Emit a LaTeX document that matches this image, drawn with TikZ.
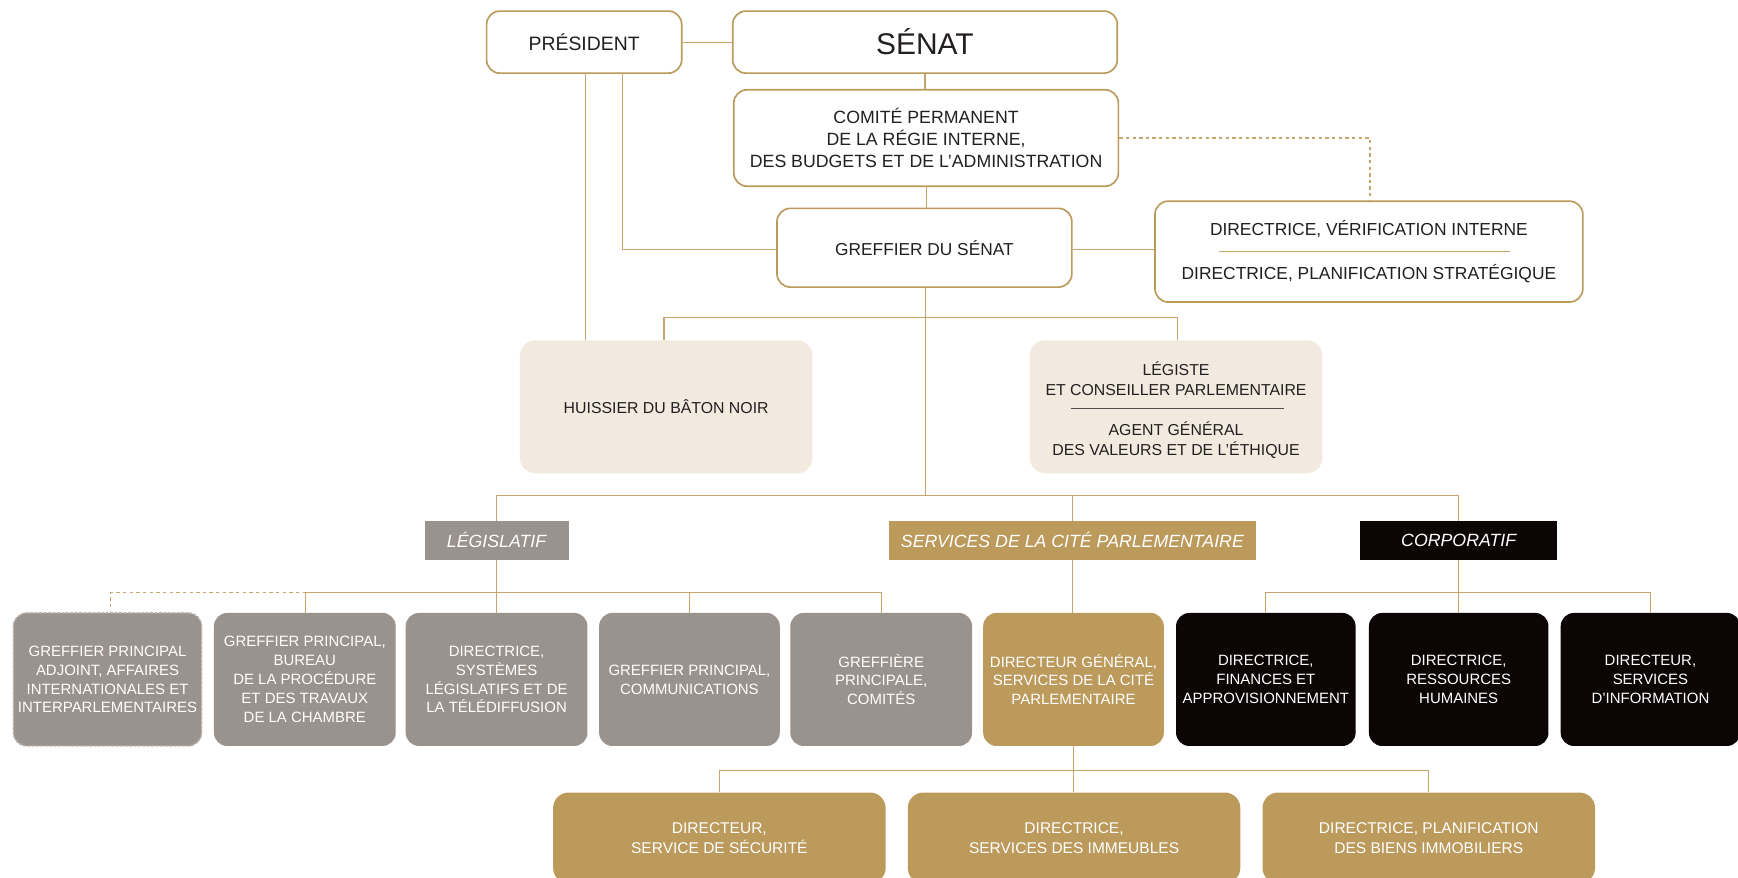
\documentclass[tikz,border=0pt]{standalone}
\usepackage{fontspec}
\setmainfont{Liberation Sans}
\definecolor{gold}{HTML}{BC9A5C}
\definecolor{goldline}{HTML}{C6A56E}
\definecolor{grayb}{HTML}{9A928C}
\definecolor{grayd}{HTML}{BDB6B0}
\definecolor{beige}{HTML}{F2EADF}
\definecolor{blk}{HTML}{0B0505}
\definecolor{txt}{HTML}{231F20}
\tikzset{
  wbox/.style={draw=gold, line width=1.5pt, fill=white, rounded corners=12pt, inner sep=0pt, align=center, text=txt},
  bbox/.style={fill=beige, rounded corners=14pt, inner sep=0pt, align=center, text=txt, minimum width=264pt, minimum height=120pt, font=\fontsize{14.3}{18.5}\selectfont},
  btext/.style={inner sep=0pt, align=center, text=txt, font=\fontsize{14.3}{18.5}\selectfont},
  tagbox/.style={inner sep=0pt, minimum height=35pt, text=white, font=\fontsize{16}{19}\selectfont\itshape},
  rowbox/.style={rounded corners=12pt, inner sep=0pt, minimum height=120pt, align=center, text=white, font=\fontsize{13.5}{17}\selectfont},
  botbox/.style={fill=gold, rounded corners=14pt, inner sep=0pt, minimum width=300pt, minimum height=82pt, align=center, text=white, font=\fontsize{14}{18}\selectfont},
  conn/.style={draw=goldline, line width=1pt},
  dconn/.style={draw=goldline, line width=1pt, dash pattern=on 3pt off 3pt}
}
\begin{document}
\begin{tikzpicture}[x=1pt,y=-1pt]
\useasboundingbox (0,0) rectangle (1568,792);
\clip (0,0) rectangle (1568,792);
% top level
\node[wbox, minimum width=176pt, minimum height=56pt, font=\fontsize{17.5}{20}\selectfont] (pres) at (527,38) {PRÉSIDENT};
\node[wbox, minimum width=347pt, minimum height=56pt, font=\fontsize{27}{30}\selectfont] (senat) at (834.5,38) {SÉNAT};
\node[wbox, minimum width=347pt, minimum height=87pt, font=\fontsize{16}{19.5}\selectfont] (comite) at (835.5,124.5) {COMITÉ PERMANENT\\DE LA RÉGIE INTERNE,\\DES BUDGETS ET DE L’ADMINISTRATION};
\node[wbox, minimum width=266pt, minimum height=71pt, font=\fontsize{15.6}{19}\selectfont] (greffier) at (834,223.5) {GREFFIER DU SÉNAT};
\node[wbox, minimum width=386pt, minimum height=91pt, font=\fontsize{15.7}{20}\selectfont] (dirs) at (1235,227) {DIRECTRICE, VÉRIFICATION INTERNE\\[19pt]DIRECTRICE, PLANIFICATION STRATÉGIQUE};
\draw[draw=goldline, line width=1pt] ([xshift=-135pt]dirs.center) -- ([xshift=127pt]dirs.center);
% beige
\node[bbox] (huissier) at (601,367) {HUISSIER DU BÂTON NOIR};
\node[bbox] (legiste) at (1061,367) {};
\node[btext] (legtext) at (1061,370) {LÉGISTE\\ET CONSEILLER PARLEMENTAIRE\\[17.5pt]AGENT GÉNÉRAL\\DES VALEURS ET DE L’ÉTHIQUE};
\draw[draw=txt!80, line width=1pt] ([xshift=-95pt,yshift=-1.5pt]legiste.center) -- ([xshift=97pt,yshift=-1.5pt]legiste.center);
% tags
\node[tagbox, fill=grayb, minimum width=130pt] (legtag) at (448,487.5) {LÉGISLATIF};
\node[tagbox, fill=gold, minimum width=331pt] (servtag) at (967.5,487.5) {SERVICES DE LA CITÉ PARLEMENTAIRE};
\node[tagbox, fill=blk, minimum width=178pt] (corptag) at (1316,487.5) {CORPORATIF};
% row
\node[rowbox, fill=grayb, draw=grayd, line width=1.3pt, dash pattern=on 2.5pt off 1.5pt, minimum width=170pt] (b1) at (97,613) {GREFFIER PRINCIPAL\\ADJOINT, AFFAIRES\\INTERNATIONALES ET\\INTERPARLEMENTAIRES};
\node[rowbox, fill=grayb, minimum width=164pt] (b2) at (275,613) {GREFFIER PRINCIPAL,\\BUREAU\\DE LA PROCÉDURE\\ET DES TRAVAUX\\DE LA CHAMBRE};
\node[rowbox, fill=grayb, minimum width=164pt] (b3) at (448,613) {DIRECTRICE,\\SYSTÈMES\\LÉGISLATIFS ET DE\\LA TÉLÉDIFFUSION};
\node[rowbox, fill=grayb, minimum width=163pt] (b4) at (622,613) {GREFFIER PRINCIPAL,\\COMMUNICATIONS};
\node[rowbox, fill=grayb, minimum width=164pt] (b5) at (795,613) {GREFFIÈRE\\PRINCIPALE,\\COMITÉS};
\node[rowbox, fill=gold, minimum width=163pt] (b6) at (968.5,613) {DIRECTEUR GÉNÉRAL,\\SERVICES DE LA CITÉ\\PARLEMENTAIRE};
\node[rowbox, fill=blk, minimum width=162pt] (b7) at (1142,613) {DIRECTRICE,\\FINANCES ET\\APPROVISIONNEMENT};
\node[rowbox, fill=blk, minimum width=162pt] (b8) at (1316,613) {DIRECTRICE,\\RESSOURCES\\HUMAINES};
\node[rowbox, fill=blk, minimum width=162pt] (b9) at (1489,613) {DIRECTEUR,\\SERVICES\\D’INFORMATION};
% bottom
\node[botbox] (c1) at (649,756) {DIRECTEUR,\\SERVICE DE SÉCURITÉ};
\node[botbox] (c2) at (969,756) {DIRECTRICE,\\SERVICES DES IMMEUBLES};
\node[botbox] (c3) at (1289,756) {DIRECTRICE, PLANIFICATION\\DES BIENS IMMOBILIERS};
% connectors
\draw[conn] (pres.east) -- (senat.west);
\draw[conn] (senat.south) -- (senat.south |- comite.north);
\draw[conn] (comite.south) -- (comite.south |- greffier.north);
\draw[dconn] (comite.east) -| ([xshift=1pt]dirs.north);
\draw[conn] ([yshift=-1.5pt]greffier.east) -- ([yshift=-1.5pt]greffier.east -| dirs.west);
\draw[conn] ([xshift=1pt]pres.south) -- ([xshift=1pt]pres.south |- huissier.north);
\draw[conn] ([xshift=35pt]pres.south) |- ([yshift=-1.5pt]greffier.west);
\draw[conn] ([xshift=1pt]greffier.south) -- ([xshift=1pt]greffier.south |- 0,447);
\draw[conn] ([xshift=-2pt]huissier.north) -- ++(0,-20) -| ([xshift=1pt]legiste.north);
\draw[conn] (legtag.north) -- ++(0,-23) -| (corptag.north);
\draw[conn] (servtag.north) -- ++(0,-23);
\draw[conn] (legtag.south) -- (legtag.south |- b3.north);
\draw[conn] ([xshift=1pt]b2.north) -- ++(0,-18) -| (b5.north);
\draw[conn] (b4.north) -- ++(0,-18);
\draw[dconn] ([xshift=1pt]b2.north) ++(0,-18) -| ([xshift=3pt]b1.north);
\draw[conn] (servtag.south) -- (servtag.south |- b6.north);
\draw[conn] (b7.north) -- ++(0,-18) -| (b9.north);
\draw[conn] (corptag.south) -- (corptag.south |- b8.north);
\draw[conn] (b6.south) -- (b6.south |- c2.north);
\draw[conn] (c1.north) -- ++(0,-20) -| (c3.north);
\end{tikzpicture}
\end{document}
